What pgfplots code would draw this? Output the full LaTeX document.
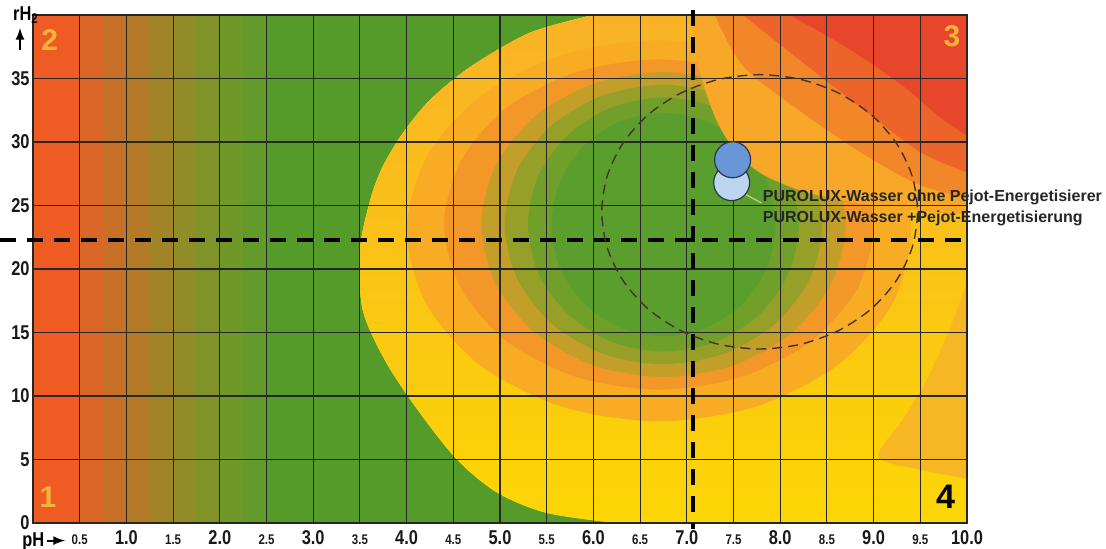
\documentclass[border=0pt]{standalone}
\usepackage{pgfplots}
\pgfplotsset{compat=1.18}
\usepackage{fontspec}
\setmainfont{Liberation Sans}
\newfontfamily\condfont[FakeStretch=0.82]{Liberation Sans}

% background colours
\definecolor{gbase}{RGB}{85,155,42}
\definecolor{redstrip}{RGB}{238,92,36}
\definecolor{s1}{RGB}{218,102,40}
\definecolor{s2}{RGB}{198,112,40}
\definecolor{s3}{RGB}{180,122,40}
\definecolor{s4}{RGB}{162,132,40}
\definecolor{s5}{RGB}{145,140,40}
\definecolor{s6}{RGB}{128,147,40}
\definecolor{s7}{RGB}{112,152,40}
\definecolor{s8}{RGB}{98,155,42}
\definecolor{eggtop}{RGB}{249,178,38}
\definecolor{eggbot}{RGB}{252,214,5}
\definecolor{o1}{RGB}{248,172,36}
\definecolor{o2}{RGB}{243,152,40}
\definecolor{g1}{RGB}{195,158,40}
\definecolor{g2}{RGB}{150,160,40}
\definecolor{g3}{RGB}{112,160,42}
\definecolor{g4}{RGB}{90,158,45}
\definecolor{cb1}{RGB}{247,168,40}
\definecolor{cb2}{RGB}{242,135,42}
\definecolor{cb3}{RGB}{236,100,42}
\definecolor{cb4}{RGB}{232,70,42}
\definecolor{lens}{RGB}{247,182,35}
% overlay colours
\definecolor{numc}{RGB}{245,178,60}
\definecolor{ellc}{RGB}{70,50,40}
\definecolor{dblue}{RGB}{105,150,215}
\definecolor{lblue}{RGB}{188,214,240}
\definecolor{cedge}{RGB}{40,55,75}
\definecolor{leader}{RGB}{205,210,120}

\newcommand\mn{\fontsize{7}{8}\selectfont}
\pgfplotsset{bg/.style={on layer=axis background, draw=none, forget plot}}

\begin{document}
\begin{tikzpicture}
\begin{axis}[
    set layers,
    scale only axis,
    width=467pt, height=254pt,
    xmin=0, xmax=10, ymin=0, ymax=40,
    clip=false,
    axis line style={black!85, line width=0.6pt},
    grid=major,
    grid style={black!85, line width=0.55pt},
    major tick length=0pt,
    xtick={0.5,1,1.5,2,2.5,3,3.5,4,4.5,5,5.5,6,6.5,7,7.5,8,8.5,9,9.5,10},
    xticklabels={{\mn 0.5},1.0,{\mn 1.5},2.0,{\mn 2.5},3.0,{\mn 3.5},4.0,{\mn 4.5},5.0,
                 {\mn 5.5},6.0,{\mn 6.5},7.0,{\mn 7.5},8.0,{\mn 8.5},9.0,{\mn 9.5},10.0},
    ytick={0,5,10,15,20,25,30,35},
    yticklabels={0,5,10,15,20,25,30,35},
    xticklabel style={font=\condfont\bfseries\fontsize{10}{12}\selectfont, anchor=base, yshift=-11pt, text=black!90},
    yticklabel style={font=\condfont\bfseries\fontsize{10}{12}\selectfont, inner sep=0pt, xshift=-1.5pt, text=black!90},
]

% --- coloured field ---
\addplot[bg, fill=gbase] coordinates {(0,0) (10,0) (10,40) (0,40)} -- cycle;
\addplot[bg, fill=redstrip] coordinates {(0,0) (0.5,0) (0.5,40) (0,40)} -- cycle;
\addplot[bg, fill=s1] coordinates {(0.5,0) (0.75,0) (0.75,40) (0.5,40)} -- cycle;
\addplot[bg, fill=s2] coordinates {(0.75,0) (1.0,0) (1.0,40) (0.75,40)} -- cycle;
\addplot[bg, fill=s3] coordinates {(1.0,0) (1.25,0) (1.25,40) (1.0,40)} -- cycle;
\addplot[bg, fill=s4] coordinates {(1.25,0) (1.5,0) (1.5,40) (1.25,40)} -- cycle;
\addplot[bg, fill=s5] coordinates {(1.5,0) (1.75,0) (1.75,40) (1.5,40)} -- cycle;
\addplot[bg, fill=s6] coordinates {(1.75,0) (2.0,0) (2.0,40) (1.75,40)} -- cycle;
\addplot[bg, fill=s7] coordinates {(2.0,0) (2.25,0) (2.25,40) (2.0,40)} -- cycle;
\addplot[bg, fill=s8] coordinates {(2.25,0) (2.5,0) (2.5,40) (2.25,40)} -- cycle;

% yellow "egg"
\addplot[bg, smooth, fill=eggbot, postaction={shade, top color=eggtop, bottom color=eggbot}] coordinates {
    (6.0,40) (5.32,38.6) (4.68,35.9) (4.25,33.3) (3.96,30.7) (3.74,28.0) (3.61,25.4)
    (3.5,21.5) (3.53,16.8) (3.77,12.8) (4.12,8.9) (4.54,5.0) (4.97,2.4) (5.5,0.8) (6.25,0)}
    -- (10,0) -- (10,40) -- cycle;

% orange ring
\addplot[bg, smooth cycle, fill=o1] coordinates {
    (9.40,23) (9.20,28.75) (8.61,33.61) (7.73,36.86) (6.70,38.0) (5.67,36.86) (4.79,33.61) (4.21,28.75)
    (4.00,23) (4.21,17.26) (4.79,12.40) (5.67,9.14) (6.70,8.0) (7.73,9.14) (8.61,12.40) (9.20,17.26)};
\addplot[bg, smooth cycle, fill=o2] coordinates {
    (9.00,23.5) (8.83,28.48) (8.33,32.69) (7.58,35.51) (6.70,36.5) (5.82,35.51) (5.07,32.69) (4.58,28.48)
    (4.40,23.5) (4.58,18.52) (5.07,14.31) (5.82,11.49) (6.70,10.5) (7.58,11.49) (8.33,14.31) (8.83,18.52)};

% green core
\addplot[bg, smooth cycle, fill=g1] coordinates {
    (8.70,23.5) (8.55,28.10) (8.13,31.98) (7.50,34.59) (6.75,35.5) (6.00,34.59) (5.37,31.98) (4.95,28.10)
    (4.80,23.5) (4.95,18.90) (5.37,15.02) (6.00,12.41) (6.75,11.5) (7.50,12.41) (8.13,15.02) (8.55,18.90)};
\addplot[bg, smooth cycle, fill=g2] coordinates {
    (8.45,23.5) (8.32,27.71) (7.95,31.28) (7.40,33.66) (6.75,34.5) (6.10,33.66) (5.55,31.28) (5.18,27.71)
    (5.05,23.5) (5.18,19.29) (5.55,15.72) (6.10,13.34) (6.75,12.5) (7.40,13.34) (7.95,15.72) (8.32,19.29)};
\addplot[bg, smooth cycle, fill=g3] coordinates {
    (8.20,23.5) (8.09,27.33) (7.78,30.57) (7.31,32.74) (6.75,33.5) (6.20,32.74) (5.73,30.57) (5.41,27.33)
    (5.30,23.5) (5.41,19.67) (5.73,16.43) (6.20,14.26) (6.75,13.5) (7.31,14.26) (7.78,16.43) (8.09,19.67)};
\addplot[bg, smooth cycle, fill=g4] coordinates {
    (7.95,23.5) (7.86,26.87) (7.60,29.72) (7.21,31.63) (6.75,32.3) (6.29,31.63) (5.90,29.72) (5.64,26.87)
    (5.55,23.5) (5.64,20.13) (5.90,17.28) (6.29,15.37) (6.75,14.7) (7.21,15.37) (7.60,17.28) (7.86,20.13)};

% red corner (top right)
\addplot[bg, smooth, fill=cb1] coordinates {
    (7.05,40) (7.12,36) (7.3,32) (7.5,29.5) (7.8,27.5) (8.3,26) (9,25) (9.6,24.5) (10,24.3)} -- (10,40) -- cycle;
\addplot[bg, smooth, fill=cb2] coordinates {
    (7.3,40) (7.6,36) (8.2,32.5) (8.9,29) (9.5,26.6) (10,25.6)} -- (10,40) -- cycle;
\addplot[bg, smooth, fill=cb3] coordinates {
    (7.6,40) (8.2,36.5) (8.9,32.5) (9.5,29.2) (10,27.6)} -- (10,40) -- cycle;
\addplot[bg, smooth, fill=cb4] coordinates {
    (8.1,40) (8.7,37.5) (9.3,34.5) (9.7,32) (10,30.5)} -- (10,40) -- cycle;

% orange arc at the right edge
\addplot[bg, smooth, fill=lens] coordinates {
    (10,19) (9.8,15) (9.55,11) (9.3,8) (9.05,5.2) (9.5,4.2) (10,3.5)} -- cycle;

% --- overlays ---
\addplot[black, line width=2pt, dash pattern=on 8pt off 5.5pt, forget plot] coordinates {(-0.35,22.25) (10,22.25)};
\addplot[black, line width=2pt, dash pattern=on 8pt off 5.5pt, forget plot] coordinates {(7.07,40.4) (7.07,-0.5)};

\addplot[smooth cycle, color=ellc, line width=0.7pt, dash pattern=on 5pt off 3pt, forget plot] coordinates {
    (9.47,24.5) (9.413,27.30) (9.244,29.90) (8.975,32.14) (8.625,33.85) (8.218,34.93)
    (7.78,35.3) (7.342,34.93) (6.935,33.85) (6.585,32.14) (6.316,29.90) (6.147,27.30)
    (6.09,24.5) (6.147,21.70) (6.316,19.10) (6.585,16.86) (6.935,15.15) (7.342,14.07)
    (7.78,13.7) (8.218,14.07) (8.625,15.15) (8.975,16.86) (9.244,19.10) (9.413,21.70)};

\addplot[color=leader, line width=0.6pt, forget plot] coordinates {(7.62,25.9) (7.8,25.2)};

\addplot[only marks, mark=*, mark size=9pt, mark options={fill=lblue, draw=cedge, line width=0.6pt}, forget plot]
    coordinates {(7.48,26.8)};
\addplot[only marks, mark=*, mark size=9pt, mark options={fill=dblue, draw=cedge, line width=0.6pt}, forget plot]
    coordinates {(7.49,28.6)};

\node[anchor=base west, font=\bfseries\fontsize{8}{9}\selectfont, text=black!85, inner sep=0pt] at (axis cs:7.81,25.35)
    {PUROLUX-Wasser ohne Pejot-Energetisierer};
\node[anchor=base west, font=\bfseries\fontsize{8}{9}\selectfont, text=black!85, inner sep=0pt] at (axis cs:7.81,23.7)
    {PUROLUX-Wasser +Pejot-Energetisierung};

% quadrant numbers
\node[font=\bfseries\fontsize{15}{15}\selectfont, text=numc] at (axis cs:0.18,38.0) {2};
\node[font=\bfseries\fontsize{15}{15}\selectfont, text=numc] at (axis cs:0.16,2.05) {1};
\node[font=\bfseries\fontsize{15}{15}\selectfont, text=numc] at (axis cs:9.84,38.3) {3};
\node[font=\bfseries\fontsize{17}{17}\selectfont, text=black] at (axis cs:9.77,2.05) {4};

% axis names
\node[anchor=base, font=\condfont\bfseries\fontsize{10}{12}\selectfont] at ([shift={(-3.5pt,-3pt)}]rel axis cs:0,1) {rH\textsubscript{2}};
\draw[-latex, line width=1pt] ([shift={(-6.5pt,-17.5pt)}]rel axis cs:0,1) -- ([shift={(-6.5pt,-6.5pt)}]rel axis cs:0,1);
\node[anchor=base west, font=\condfont\bfseries\fontsize{10}{12}\selectfont, inner sep=0pt] at ([shift={(-5.5pt,-12pt)}]rel axis cs:0,0) {pH};
\draw[-latex, line width=1pt] ([shift={(7pt,-8.8pt)}]rel axis cs:0,0) -- ([shift={(16pt,-8.8pt)}]rel axis cs:0,0);

\coordinate (bl) at (rel axis cs:0,0);
\coordinate (tr) at (rel axis cs:1,1);
\end{axis}
\pgfresetboundingbox
\path ([shift={(-16.5pt,-13pt)}]bl) rectangle ([shift={(69.5pt,7.5pt)}]tr);
\end{tikzpicture}
\end{document}
